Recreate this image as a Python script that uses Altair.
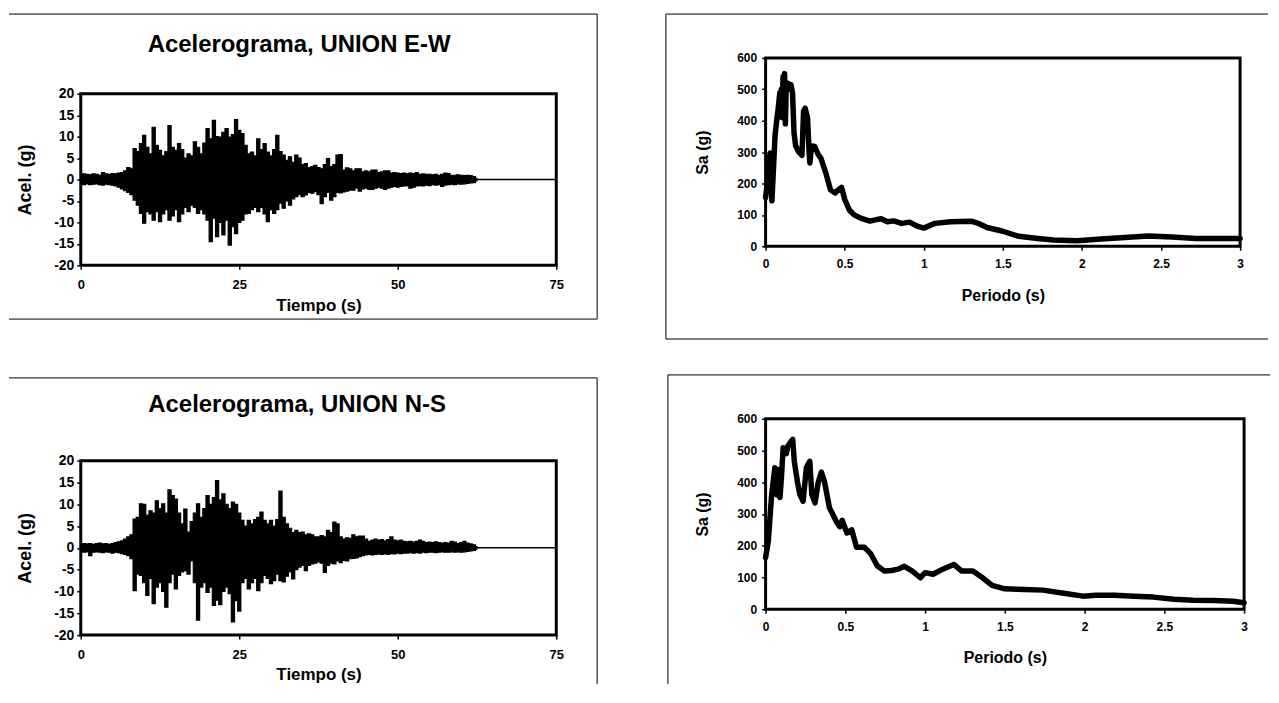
import altair as alt
import pandas as pd

FONT = "Liberation Sans"

# ---------------- text ----------------
panel_titles = ["Acelerograma, UNION E-W", "Acelerograma, UNION N-S"]
acc_x_title = "Tiempo (s)"
acc_y_title = "Acel. (g)"
sp_x_title = "Periodo (s)"
sp_y_title = "Sa (g)"
acc_x_ticks = [0, 25, 50, 75]
acc_y_ticks = [-20, -15, -10, -5, 0, 5, 10, 15, 20]
sp_x_ticks = [0, 0.5, 1, 1.5, 2, 2.5, 3]
sp_y_ticks = [0, 100, 200, 300, 400, 500, 600]

# ---------------- accelerograms: envelope read every 0.5 s ----------------
ew_upper = [1.2, 1.3, 1.2, 1.1, 1.3, 1.2, 1.0, 1.6, 1.3, 1.2, 1.4, 1.3, 1.5, 1.6,
            2.0, 2.8, 2.5, 7.2, 6.5, 8.4, 10.3, 7.5, 6.0, 12.2,
            8.0, 6.8, 5.5, 6.5, 12.6, 7.5, 6.8, 8.4, 7.0, 5.0,
            6.0, 5.5, 8.8, 7.5, 6.0, 8.5, 11.9, 9.5, 13.8, 10.0,
            9.9, 11.0, 11.9, 9.9, 10.5, 14.0, 11.5, 10.7, 8.0, 6.0,
            6.4, 5.5, 9.5, 7.0, 8.4, 6.4, 5.5, 7.0, 10.3, 6.5,
            5.7, 4.5, 5.3, 4.0, 5.7, 5.0, 3.5, 3.7, 2.8, 3.0,
            3.3, 2.8, 2.5, 3.5, 4.9, 3.0, 3.5, 5.7, 5.8, 2.2,
            2.7, 2.5, 2.0, 2.5, 2.5, 1.8, 2.0, 1.8, 2.2, 2.2,
            1.6, 1.8, 2.0, 2.0, 1.5, 1.6, 1.5, 1.4, 1.5, 1.3,
            1.5, 1.4, 1.6, 1.2, 1.3, 1.2, 1.2, 1.1, 1.2, 1.0,
            1.2, 1.5, 1.4, 1.0, 1.0, 1.1, 1.0, 0.9, 1.0, 0.9,
            0.7, 0.3]
ew_lower = [-1.1, -1.2, -1.0, -1.2, -1.1, -1.0, -1.2, -1.3, -1.1, -1.2, -1.3, -1.5, -1.8, -2.2,
            -2.6, -3.0, -3.5, -4.8, -6.0, -7.9, -10.2, -7.5, -8.0, -9.5,
            -7.5, -9.8, -8.0, -7.0, -9.5, -8.5, -7.0, -9.8, -8.0, -6.5,
            -7.5, -6.0, -6.5, -7.9, -7.0, -8.0, -9.5, -14.5, -9.0, -13.3,
            -10.0, -12.9, -9.5, -15.3, -11.0, -12.6, -10.0, -9.5, -8.0, -7.9,
            -7.0, -6.5, -7.5, -6.5, -8.0, -9.8, -7.0, -7.9, -7.0, -5.5,
            -6.7, -5.0, -6.0, -4.5, -4.0, -3.5, -4.0, -3.6, -3.0, -3.2,
            -2.8, -3.5, -5.6, -4.0, -3.0, -4.8, -4.0, -3.0, -3.1, -2.9,
            -2.7, -2.5, -2.5, -2.0, -2.7, -2.2, -2.0, -2.3, -2.3, -2.0,
            -1.8, -2.0, -2.3, -2.0, -1.8, -1.6, -1.8, -1.6, -1.5, -1.5,
            -2.0, -1.8, -1.5, -1.4, -1.5, -1.3, -1.4, -1.2, -1.3, -1.2,
            -1.6, -1.3, -1.2, -1.1, -1.2, -1.0, -1.1, -1.0, -0.9, -0.8,
            -0.7, -0.3]
ns_upper = [0.8, 1.0, 0.9, 1.0, 0.8, 1.0, 1.1, 0.9, 1.0, 0.8, 1.0, 1.2, 1.4, 1.6,
            2.0, 2.5, 3.0, 6.6, 7.0, 10.1, 10.0, 7.5, 8.5, 8.0,
            10.8, 9.0, 10.1, 8.0, 13.3, 12.0, 11.2, 8.0, 5.5, 8.9,
            3.6, 6.0, 8.0, 10.1, 7.0, 9.0, 12.0, 10.0, 11.5, 15.4,
            11.0, 12.4, 10.0, 9.0, 10.5, 10.0, 8.0, 6.3, 5.0, 6.3,
            5.5, 6.5, 7.0, 8.2, 6.3, 5.5, 6.3, 5.0, 6.5, 13.0,
            7.0, 5.5, 4.5, 3.5, 4.0, 3.5, 3.6, 3.0, 3.2, 3.0,
            2.5, 2.5, 2.8, 2.5, 4.0, 3.5, 5.9, 5.5, 2.5, 2.0,
            2.3, 2.2, 3.0, 2.5, 2.7, 2.7, 2.0, 1.5, 1.8, 2.0,
            1.8, 1.9, 1.6, 1.9, 2.5, 1.8, 1.6, 1.8, 1.5, 1.4,
            1.5, 1.3, 1.5, 1.8, 1.5, 1.2, 1.3, 1.2, 1.4, 1.2,
            1.1, 1.2, 1.1, 1.5, 1.3, 1.0, 1.2, 1.5, 1.1, 0.9,
            0.7, 0.3]
ns_lower = [-0.8, -1.0, -0.9, -1.8, -1.0, -0.9, -1.0, -1.1, -0.9, -1.0, -1.2, -1.0, -1.1, -1.3,
            -1.5, -1.8, -2.5, -9.8, -6.0, -6.3, -8.0, -10.9, -7.0, -12.8,
            -9.0, -8.0, -10.0, -13.6, -8.0, -6.0, -9.4, -6.3, -5.5, -5.2,
            -6.0, -3.0, -8.0, -16.6, -9.0, -8.0, -10.2, -9.0, -13.2, -12.0,
            -13.0, -10.0, -9.0, -10.5, -17.0, -12.1, -14.5, -8.0, -7.0, -9.4,
            -8.0, -7.0, -9.8, -8.0, -6.3, -7.0, -8.2, -7.5, -6.0, -7.5,
            -7.8, -6.5, -5.5, -7.1, -5.0, -4.4, -4.0, -5.2, -4.0, -3.7,
            -3.5, -3.2, -3.5, -5.6, -4.0, -3.5, -3.7, -3.0, -3.4, -2.9,
            -3.0, -2.5, -2.4, -2.3, -2.0, -1.8, -1.6, -1.5, -1.6, -1.5,
            -1.4, -1.5, -1.4, -1.5, -1.3, -1.4, -1.2, -1.3, -1.2, -1.2,
            -1.1, -1.2, -1.1, -1.2, -1.0, -1.1, -1.0, -1.0, -1.1, -1.0,
            -0.9, -1.0, -1.0, -0.9, -1.0, -0.9, -1.0, -0.9, -0.8, -0.7,
            -0.6, -0.3]
acc_time = [i * 0.5 for i in range(len(ew_upper))]
tail_time = [62.5, 75.0]
tail_value = [0.0, 0.0]

# ---------------- response spectra ----------------
ew_T = [0, 0.015, 0.028, 0.04, 0.05, 0.06, 0.07, 0.08, 0.09, 0.095, 0.10, 0.105, 0.11,
        0.115, 0.12, 0.125, 0.13, 0.14, 0.15, 0.16, 0.17, 0.18, 0.19, 0.20, 0.21, 0.23,
        0.24, 0.25, 0.265, 0.275, 0.28, 0.29, 0.31, 0.33, 0.35, 0.38, 0.41, 0.44, 0.46,
        0.48, 0.50, 0.53, 0.56, 0.60, 0.66, 0.70, 0.73, 0.77, 0.81, 0.86, 0.91, 0.96,
        1.0, 1.07, 1.17, 1.30, 1.35, 1.40, 1.50, 1.60, 1.72, 1.82, 1.97, 2.12, 2.27,
        2.42, 2.57, 2.72, 2.87, 3.0]
ew_Sa = [155, 220, 297, 145, 250, 355, 400, 440, 490, 420, 500, 410, 540,
         430, 550, 390, 500, 520, 500, 515, 490, 360, 320, 310, 300, 290,
         430, 440, 410, 300, 265, 320, 318, 295, 280, 235, 180, 170, 180,
         188, 150, 115, 100, 90, 80, 85, 88, 78, 81, 73, 77, 64,
         58, 73, 78, 80, 72, 60, 48, 32, 25, 20, 18, 23, 28,
         33, 30, 25, 25, 25]
ns_T = [0, 0.017, 0.038, 0.058, 0.07, 0.08, 0.09, 0.10, 0.11, 0.13, 0.14, 0.16, 0.17,
        0.18, 0.20, 0.215, 0.235, 0.256, 0.277, 0.29, 0.31, 0.33, 0.35, 0.37, 0.40,
        0.445, 0.465, 0.48, 0.51, 0.54, 0.57, 0.62, 0.66, 0.70, 0.745, 0.79, 0.83,
        0.87, 0.92, 0.97, 1.0, 1.05, 1.11, 1.18, 1.23, 1.30, 1.36, 1.42, 1.50, 1.62,
        1.74, 1.87, 1.99, 2.07, 2.19, 2.31, 2.43, 2.56, 2.68, 2.81, 2.93, 3.0]
ns_Sa = [163, 215, 361, 446, 360, 440, 352, 420, 509, 490, 515, 529, 535,
         466, 400, 361, 340, 446, 466, 361, 335, 400, 432, 400, 320,
         275, 260, 280, 240, 250, 195, 195, 174, 137, 120, 122, 126,
         135, 120, 99, 115, 110, 126, 141, 120, 120, 99, 75, 64, 62,
         60, 50, 41, 44, 44, 41, 38, 31, 28, 27, 25, 20]

one_row = pd.DataFrame({"k": [0]})
HYPHEN = "'' + datum.value"


def lbl(size):
    return dict(labelFont=FONT, labelFontSize=size, labelFontWeight="bold", labelColor="black",
                labelFlush=False, labelOverlap=False)


def ttl(size):
    return dict(titleFont=FONT, titleFontSize=size, titleFontWeight="bold", titleColor="black",
                titleBaseline="middle")


def decorations(box, segments):
    """Plot-area box (thick) and the outer panel frame lines (thin)."""
    bx1, bx2, by1, by2 = box
    layers = [alt.Chart(one_row).mark_rect(filled=False, stroke="black", strokeWidth=3).encode(
        x=alt.value(bx1), x2=alt.value(bx2), y=alt.value(by1), y2=alt.value(by2))]
    for (x1, x2, y1, y2) in segments:
        layers.append(
            alt.Chart(one_row).mark_rule(color="black", strokeWidth=1).encode(
                x=alt.value(x1), x2=alt.value(x2), y=alt.value(y1), y2=alt.value(y2)))
    return layers


def accel_panel(upper, lower, title, w, h, title_x, title_y, segments):
    df = pd.DataFrame({"t": acc_time, "up": upper, "lo": lower})
    tail = pd.DataFrame({"t": tail_time, "v": tail_value})
    xs = alt.Scale(domain=[0, 75], nice=False)
    ys = alt.Scale(domain=[-20, 20], nice=False)
    xax = alt.Axis(values=acc_x_ticks, title=acc_x_title, grid=False, domain=False,
                   tickSize=4, tickColor="black", tickWidth=1.5, labelPadding=9,
                   titleY=40, **lbl(13), **ttl(17))
    yax = alt.Axis(values=acc_y_ticks, title=acc_y_title, grid=False, domain=False,
                   tickSize=4, tickColor="black", tickWidth=1.5, labelPadding=3,
                   labelExpr=HYPHEN, titleX=-55, titleY=h / 2, **lbl(14), **ttl(18))
    area = alt.Chart(df).mark_area(color="black", interpolate="step", opacity=1,
                                   stroke="black", strokeWidth=1.2).encode(
        x=alt.X("t:Q", scale=xs, axis=xax),
        y=alt.Y("up:Q", scale=ys, axis=yax),
        y2="lo:Q")
    tl = alt.Chart(tail).mark_line(color="black", strokeWidth=1.5).encode(
        x=alt.X("t:Q", scale=xs, axis=xax), y=alt.Y("v:Q", scale=ys, axis=yax))
    txt = alt.Chart(pd.DataFrame({"label": [title]})).mark_text(
        font=FONT, fontSize=24, fontWeight="bold", color="black",
        align="center", baseline="alphabetic").encode(
        x=alt.value(title_x), y=alt.value(title_y), text="label:N")
    return alt.layer(*decorations((0, w, 0, h), segments), area, tl, txt).properties(
        width=w, height=h)


def spec_panel(T, Sa, w, h, top, segments):
    """top < 0 lets the plot area start above the view origin (row alignment)."""
    df = pd.DataFrame({"T": T, "Sa": Sa})
    xax = alt.Axis(values=sp_x_ticks, title=sp_x_title, grid=False, domain=False, format="~g",
                   tickSize=4, tickColor="black", tickWidth=1.5, labelPadding=8,
                   titleY=49, **lbl(12), **ttl(16))
    yax = alt.Axis(values=sp_y_ticks, title=sp_y_title, grid=False, domain=False,
                   tickSize=4, tickColor="black", tickWidth=1.5, labelPadding=5,
                   titleX=-63, titleY=(h + top) / 2, **lbl(12), **ttl(16))
    line = alt.Chart(df).mark_line(color="black", strokeWidth=5.5, strokeJoin="round",
                                   strokeCap="round").encode(
        x=alt.X("T:Q", scale=alt.Scale(domain=[0, 3], nice=False), axis=xax),
        y=alt.Y("Sa:Q", scale=alt.Scale(domain=[0, 600], nice=False, range=[h, top]),
                axis=yax))
    return alt.layer(*decorations((0, w, top, h), segments), line).properties(
        width=w, height=h)


# top-left: view at page (80, 94)
tl_panel = accel_panel(ew_upper, ew_lower, panel_titles[0], 477, 172, 219, -42,
                       [(-72, 518, -80, -80), (518, 518, -80, 226), (-72, 518, 226, 226)])
# bottom-left: view at page (80, 461)
bl_panel = accel_panel(ns_upper, ns_lower, panel_titles[1], 477, 175, 217, -49,
                       [(-72, 518, -83, -83), (518, 518, -83, 224)])
# top-right: view origin shares the top-left row (page y 94); plot area from page 58 to 247
tr_panel = spec_panel(ew_T, ew_Sa, 476, 153, -36,
                      [(-100, -100, -80, 246), (-100, 504, -80, -80), (-100, 504, 246, 246)])
# bottom-right: view at page (764, 419)
br_panel = spec_panel(ns_T, ns_Sa, 480, 191, 0,
                      [(-98, -98, -44, 266), (-98, 506, -44, -44)])

left_col = alt.vconcat(tl_panel, bl_panel, spacing=57)
right_col = alt.vconcat(tr_panel, br_panel, spacing=34)

chart = alt.hconcat(left_col, right_col, spacing=67).properties(
    padding={"left": 0, "top": 4, "right": 0, "bottom": 0},
    background="white",
).configure_view(strokeWidth=0, stroke=None)

chart.save("out.html", embed_options={"renderer": "svg", "actions": False})
